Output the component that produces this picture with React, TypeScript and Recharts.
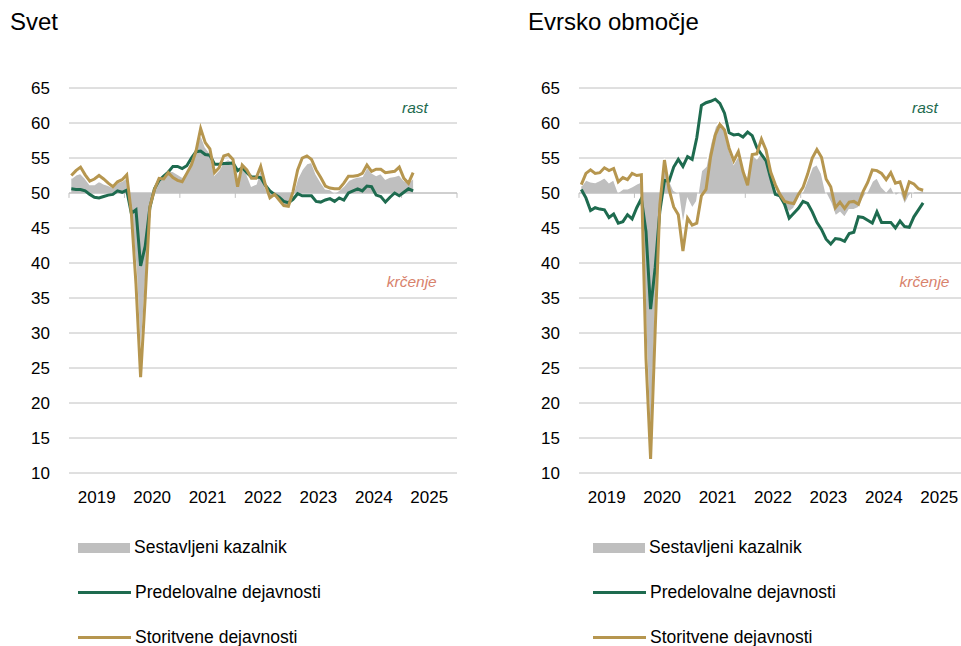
import {
  Area,
  CartesianGrid,
  ComposedChart,
  Legend,
  Line,
  ReferenceDot,
  ReferenceLine,
  XAxis,
  YAxis,
} from 'recharts';

// monthly PMI values, Jan 2019 – Mar 2025
const years = ['2019', '2020', '2021', '2022', '2023', '2024', '2025'];
const yTicks = [10, 15, 20, 25, 30, 35, 40, 45, 50, 55, 60, 65];
const seriesNames = ['Sestavljeni kazalnik', 'Predelovalne dejavnosti', 'Storitvene dejavnosti'];

const svetComposite = [
  52.1, 52.6, 52.8, 52.1, 51.2, 51.2, 51.7, 51.3, 51.1, 50.8, 51.5, 51.7,
  52.2, 46.1, 39.4, 26.2, 36.3, 47.7, 50.8, 52.4, 52.1, 53.1, 53.1, 52.7,
  52.3, 53.2, 54.8, 56.3, 58.4, 56.6, 55.7, 52.6, 53.3, 54.5, 54.8, 54.3,
  51.1, 53.5, 52.7, 51.0, 51.3, 53.5, 50.8, 49.3, 49.7, 49.0, 48.0, 48.2,
  49.8, 52.1, 53.4, 54.2, 54.4, 52.7, 51.6, 50.6, 50.5, 50.0, 50.4, 51.0,
  51.8, 52.1, 52.3, 52.4, 53.7, 52.9, 52.5, 52.8, 52.0, 52.3, 52.4, 52.6,
  51.8, 51.5, 52.1,
];
const svetManufacturing = [
  50.6, 50.5, 50.5, 50.3, 49.8, 49.4, 49.3, 49.5, 49.7, 49.8, 50.3, 50.1,
  50.4, 47.1, 47.6, 39.6, 42.4, 47.9, 50.6, 51.8, 52.4, 53.0, 53.8, 53.8,
  53.5, 53.9, 55.0, 55.9, 56.0, 55.5, 55.4, 54.1, 54.1, 54.2, 54.2, 54.3,
  53.2, 53.6, 52.9, 52.3, 52.3, 52.2, 51.1, 50.3, 49.8, 49.4, 48.8, 48.6,
  49.1, 49.9, 49.6, 49.6, 49.6, 48.8, 48.7, 49.0, 49.2, 48.8, 49.3, 49.0,
  50.0, 50.3, 50.6, 50.3, 51.0, 50.9, 49.7, 49.5, 48.7, 49.4, 50.0, 49.6,
  50.1, 50.6, 50.3,
];
const svetServices = [
  52.5, 53.2, 53.7, 52.6, 51.7, 52.0, 52.5, 52.0, 51.4, 50.9, 51.6, 51.9,
  52.6, 47.1, 37.0, 23.7, 35.1, 48.0, 50.5, 52.1, 52.0, 52.9, 52.2, 51.8,
  51.6, 52.8, 54.0, 56.0, 59.2, 57.2, 56.3, 52.9, 53.6, 55.3, 55.5, 54.8,
  50.9, 54.0, 53.3, 52.1, 52.1, 53.8, 51.2, 49.3, 49.8, 49.0, 48.2, 48.1,
  50.2, 53.3, 55.0, 55.3, 54.8, 53.3, 52.2, 51.0, 50.7, 50.6, 50.6, 51.4,
  52.4, 52.4, 52.5, 52.8, 54.0, 53.1, 53.4, 53.4, 52.9, 53.0, 53.1, 53.7,
  52.1, 51.4, 52.9,
];

const euroComposite = [
  51.0, 51.9, 51.6, 51.5, 51.8, 52.2, 51.5, 51.9, 50.1, 50.6, 50.6, 50.9,
  51.3, 51.6, 29.7, 13.6, 31.9, 48.5, 54.9, 51.9, 50.4, 50.0, 45.3, 49.1,
  47.8, 48.8, 53.2, 53.8, 57.1, 59.5, 60.2, 59.0, 56.2, 54.2, 55.4, 53.3,
  52.3, 55.5, 54.9, 55.8, 54.8, 52.0, 49.9, 48.9, 48.1, 47.3, 47.8, 49.3,
  50.3, 52.0, 53.7, 54.1, 52.8, 49.9, 48.6, 46.7, 47.2, 46.5, 47.6, 47.6,
  47.9, 49.2, 50.3, 51.7, 52.2, 50.9, 50.2, 51.0, 49.6, 50.0, 48.3, 49.6,
  50.2, 50.2, 50.4,
];
const euroManufacturing = [
  50.5, 49.3, 47.5, 47.9, 47.7, 47.6, 46.5, 47.0, 45.7, 45.9, 46.9, 46.3,
  47.9, 49.2, 44.5, 33.4, 39.4, 47.4, 51.8, 51.7, 53.7, 54.8, 53.8, 55.2,
  54.8, 57.9, 62.5, 62.9, 63.1, 63.4, 62.8, 61.4, 58.6, 58.3, 58.4, 58.0,
  58.7, 58.2, 56.5, 55.5, 54.6, 52.1, 49.8, 49.6, 48.4, 46.4, 47.1, 47.8,
  48.8, 48.5, 47.3, 45.8, 44.8, 43.4, 42.7, 43.5, 43.4, 43.1, 44.2, 44.4,
  46.6, 46.5, 46.1, 45.7, 47.3, 45.8, 45.8, 45.8, 45.0, 46.0, 45.2, 45.1,
  46.6, 47.6, 48.6,
];
const euroServices = [
  51.2, 52.8, 53.3, 52.8, 52.9, 53.6, 53.2, 53.5, 51.6, 52.2, 51.9, 52.8,
  52.5, 52.6, 26.4, 12.0, 30.5, 48.3, 54.7, 50.5, 48.0, 46.9, 41.7, 46.4,
  45.4, 45.7, 49.6, 50.5, 55.2, 58.3, 59.8, 59.0, 56.4, 54.6, 55.9, 53.1,
  51.1, 55.5, 55.6, 57.7, 56.1, 53.0, 51.2, 49.8, 48.8, 48.6, 48.5, 49.8,
  50.8, 52.7, 55.0, 56.2, 55.1, 52.0, 50.9, 47.9, 48.7, 47.8, 48.7, 48.8,
  48.4, 50.2, 51.5, 53.3, 53.2, 52.8, 51.9, 52.9, 51.4, 51.6, 49.5, 51.6,
  51.3, 50.6, 50.4,
];

const GREEN = '#1e6b4f';
const GOLD = '#b6964f';
const GRAY = '#bfbfbf';
const GRID = '#c0c0c0';
const RED = '#d8826c';
const FONT = '"Liberation Sans", Arial, sans-serif';

const yearMid = years.map((_, i) => i * 12 + 6);
const yearEdges = [0, 12, 24, 36, 48, 60, 72, 84];

function LegendBox() {
  const swatches = [
    <div style={{ width: 52, height: 10, background: GRAY }} />,
    <div style={{ width: 53, height: 3, background: GREEN }} />,
    <div style={{ width: 53, height: 3, background: GOLD }} />,
  ];
  return (
    <div style={{ fontFamily: FONT }}>
      {seriesNames.map((name, i) => (
        <div key={name} style={{ height: 45, display: 'flex', alignItems: 'center' }}>
          {swatches[i]}
          <span style={{ marginLeft: 4, fontSize: 17.5, color: '#000', whiteSpace: 'nowrap' }}>{name}</span>
        </div>
      ))}
    </div>
  );
}

type PanelProps = {
  title: string;
  titleX: number;
  left: number;
  legendX: number;
  krcX: number;
  composite: number[];
  manufacturing: number[];
  services: number[];
};

function Panel({ title, titleX, left, legendX, krcX, composite, manufacturing, services }: PanelProps) {
  const data = composite.map((c, i) => ({
    m: i + 0.5,
    comp: c,
    mfg: manufacturing[i],
    serv: services[i],
  }));

  return (
    <div style={{ position: 'absolute', left, top: 0, width: 480, height: 646 }}>
      <div style={{ position: 'absolute', left: titleX, top: 8, fontSize: 24, lineHeight: '28px', color: '#000' }}>
        {title}
      </div>
      <ComposedChart width={480} height={646} data={data} margin={{ top: 88, right: 23, bottom: 143, left: 9 }}>
        <CartesianGrid vertical={false} stroke={GRID} />
        <XAxis
          dataKey='m'
          type='number'
          domain={[0, 84]}
          ticks={yearMid}
          interval={0}
          tickFormatter={(v) => years[Math.floor(v / 12)]}
          axisLine={false}
          tickLine={false}
          tickSize={0}
          tickMargin={18}
          height={30}
          tick={{ fill: '#000', fontSize: 17 }}
        />
        <YAxis
          type='number'
          domain={[10, 65]}
          ticks={yTicks}
          interval={0}
          axisLine={false}
          tickLine={false}
          tickSize={0}
          tickMargin={19}
          width={60}
          tick={{ fill: '#000', fontSize: 17 }}
        />
        <ReferenceLine y={50} stroke={GRID} />
        {yearEdges.map((x) => (
          <ReferenceLine key={x} segment={[{ x, y: 50 }, { x, y: 49.3 }]} stroke={GRID} />
        ))}
        <Area
          dataKey='comp'
          type='linear'
          baseValue={50}
          fill={GRAY}
          fillOpacity={1}
          stroke='#ffffff'
          strokeWidth={1.5}
          isAnimationActive={false}
        />
        <Line dataKey='mfg' type='linear' stroke={GREEN} strokeWidth={3} dot={false} isAnimationActive={false} />
        <Line dataKey='serv' type='linear' stroke={GOLD} strokeWidth={3} dot={false} isAnimationActive={false} />
        <ReferenceDot
          x={74.9}
          y={62.2}
          r={0}
          fill='none'
          stroke='none'
          label={{ value: 'rast', position: 'center', fill: GREEN, fontSize: 15.5, fontStyle: 'italic' }}
        />
        <ReferenceDot
          x={krcX}
          y={37.3}
          r={0}
          fill='none'
          stroke='none'
          label={{ value: 'krčenje', position: 'center', fill: RED, fontSize: 15.5, fontStyle: 'italic' }}
        />
        <Legend
          layout='horizontal'
          verticalAlign='middle'
          align='center'
          content={() => <LegendBox />}
          wrapperStyle={{ left: legendX, top: 525, width: 300 }}
        />
      </ComposedChart>
    </div>
  );
}

export default function App() {
  return (
    <div
      style={{
        position: 'fixed',
        left: 0,
        top: 0,
        width: 961,
        height: 646,
        overflow: 'hidden',
        background: '#fff',
        fontFamily: FONT,
      }}
    >
      <Panel
        title='Svet'
        titleX={10}
        left={0}
        legendX={78}
        krcX={74.2}
        composite={svetComposite}
        manufacturing={svetManufacturing}
        services={svetServices}
      />
      <Panel
        title='Evrsko območje'
        titleX={18}
        left={510}
        legendX={83}
        krcX={74.8}
        composite={euroComposite}
        manufacturing={euroManufacturing}
        services={euroServices}
      />
    </div>
  );
}
